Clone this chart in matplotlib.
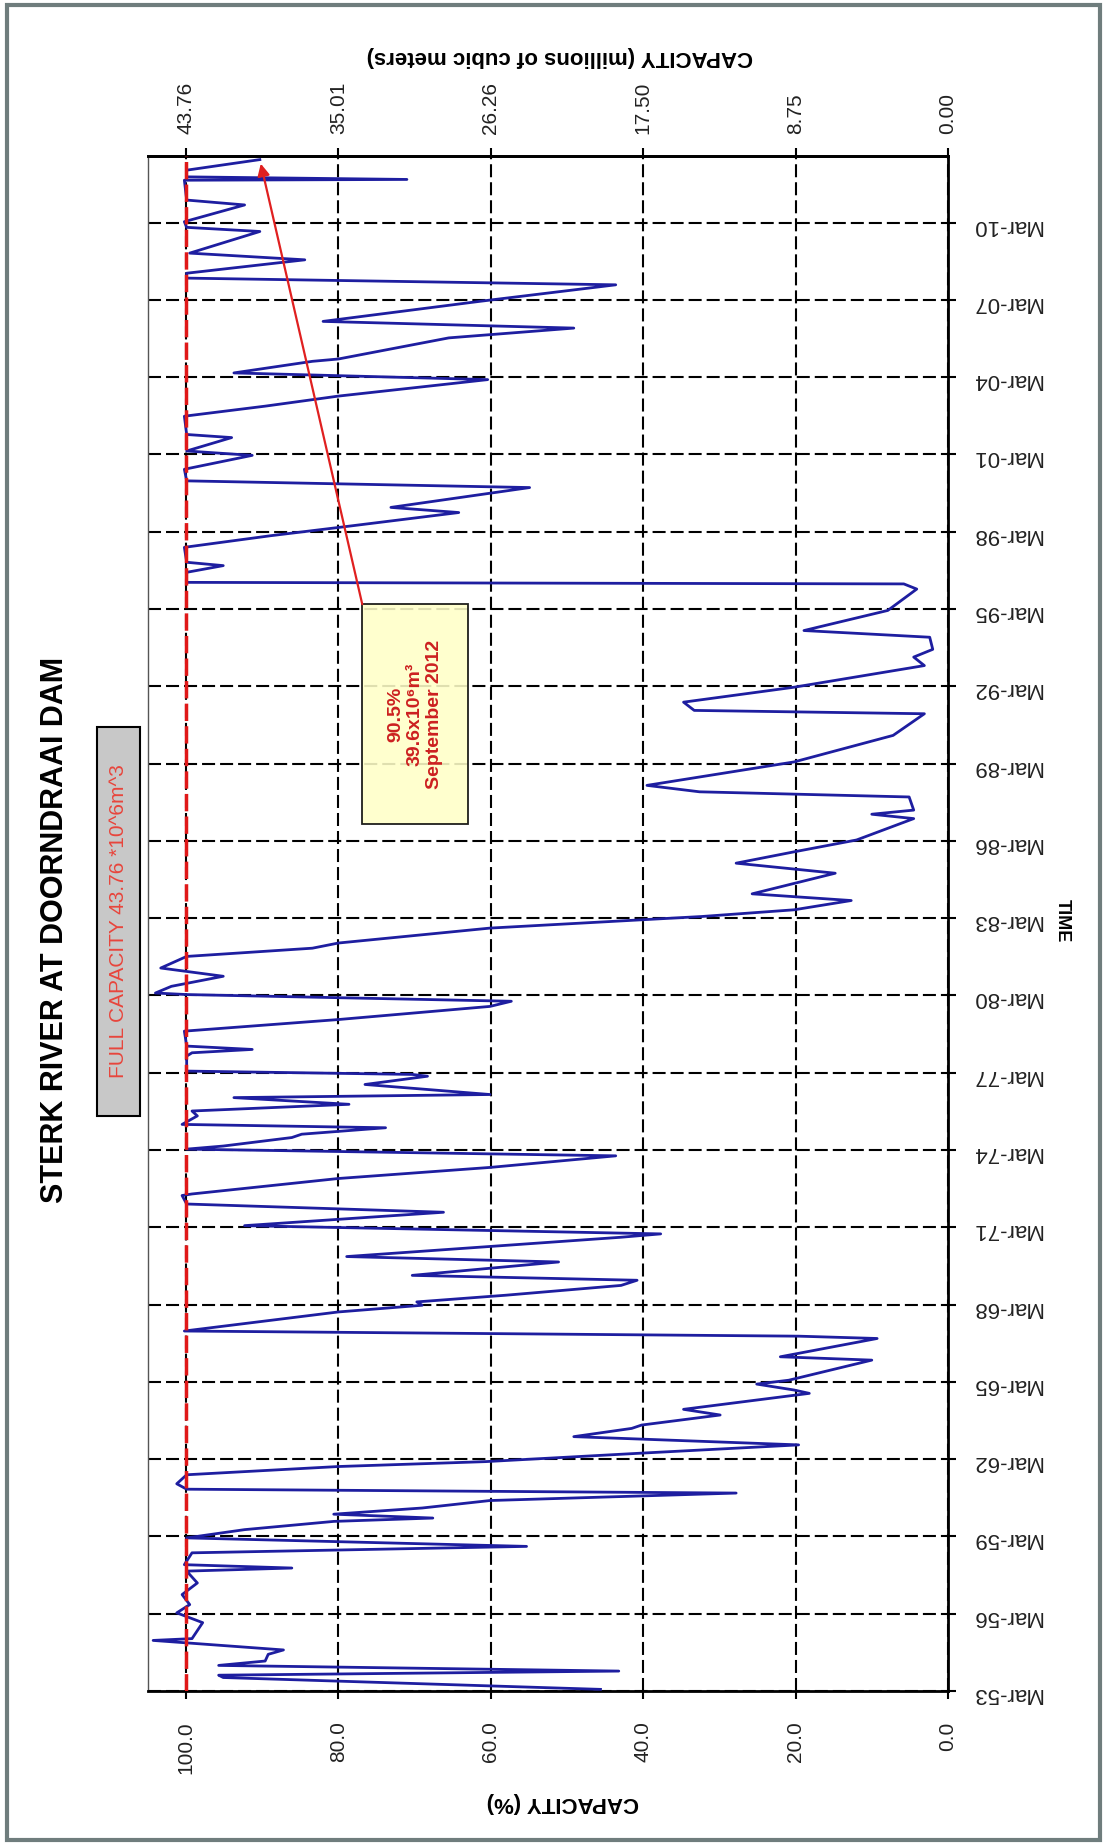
import matplotlib
matplotlib.use("Agg")
import matplotlib.pyplot as plt
from matplotlib.patches import Rectangle

plt.rcParams["font.family"] = ["Liberation Sans", "DejaVu Sans"]

# storage in % of full capacity (decimal year, %)
years = [
    1953.23, 1953.69, 1953.78, 1953.94, 1954.16, 1954.33, 1954.59, 1954.76,
    1955.13, 1955.20, 1955.82, 1956.20, 1956.52, 1956.91, 1957.36, 1957.82,
    1957.94, 1958.07, 1958.53, 1958.78, 1959.11, 1959.43, 1959.75, 1959.88,
    1960.03, 1960.27, 1960.56, 1960.85, 1961.00, 1961.21, 1961.56, 1961.88,
    1962.07, 1962.40, 1962.72, 1963.04, 1963.36, 1963.49, 1963.88, 1964.10,
    1964.72, 1964.85, 1965.08, 1965.23, 1966.01, 1966.14, 1966.85, 1966.94,
    1967.14, 1967.88, 1968.14, 1968.27, 1968.53, 1968.91, 1969.11, 1969.30,
    1969.82, 1970.03, 1970.78, 1970.91, 1971.23, 1971.75, 1972.07, 1972.40,
    1972.46, 1973.06, 1973.49, 1973.94, 1974.20, 1974.32, 1974.65, 1974.78,
    1975.03, 1975.16, 1975.49, 1975.68, 1975.94, 1976.20, 1976.32, 1976.71,
    1977.03, 1977.10, 1977.23, 1977.81, 1977.94, 1978.07, 1978.20, 1978.78,
    1979.23, 1979.74, 1979.94, 1980.20, 1980.26, 1980.52, 1980.91, 1981.23,
    1981.68, 1982.00, 1982.20, 1982.78, 1983.10, 1983.23, 1983.49, 1983.85,
    1984.11, 1984.91, 1985.30, 1985.74, 1986.20, 1987.03, 1987.20, 1987.36,
    1987.87, 1988.07, 1988.32, 1989.23, 1990.26, 1991.10, 1991.23, 1991.55,
    1992.13, 1992.97, 1993.30, 1993.60, 1994.07, 1994.33, 1995.11, 1995.94,
    1996.14, 1996.20, 1996.59, 1996.85, 1996.98, 1997.56, 1998.01, 1998.33,
    1998.91, 1999.11, 1999.88, 2000.14, 2000.59, 2001.13, 2001.30, 2001.82,
    2001.94, 2002.65, 2003.04, 2003.43, 2004.07, 2004.33, 2004.78, 2004.87,
    2005.69, 2006.07, 2006.33, 2007.11, 2007.75, 2008.01, 2008.20, 2008.72,
    2008.98, 2009.82, 2009.98, 2010.20, 2010.85, 2011.04, 2011.81, 2011.84,
    2011.94, 2012.20, 2012.61,
]
capacity = [
    45.6, 95.1, 95.7, 43.2, 95.7, 89.6, 89.2, 87.2,
    104.3, 99.2, 97.8, 101.2, 99.5, 100.5, 98.5, 99.9,
    86.1, 100.2, 99.2, 55.3, 99.9, 92.3, 80.6, 67.6,
    80.6, 69.0, 60.1, 27.8, 99.9, 101.2, 99.9, 80.0,
    60.7, 40.2, 19.6, 49.1, 41.5, 40.2, 29.9, 34.7,
    18.2, 20.2, 25.1, 20.9, 10.0, 22.0, 9.3, 19.6,
    100.2, 80.0, 69.0, 69.7, 58.0, 42.9, 40.8, 70.3,
    51.1, 78.9, 42.9, 37.7, 92.3, 66.2, 99.9, 100.5,
    99.2, 80.0, 60.1, 43.6, 99.9, 95.1, 86.1, 84.8,
    73.8, 100.5, 98.5, 99.2, 78.6, 93.7, 60.1, 76.5,
    68.3, 70.3, 99.9, 99.9, 99.2, 91.3, 99.9, 100.2,
    80.0, 60.1, 57.3, 99.9, 104.0, 101.9, 95.1, 103.3,
    99.9, 83.4, 80.0, 60.1, 40.2, 32.3, 20.2, 12.7,
    25.7, 14.8, 27.8, 20.2, 12.0, 4.5, 10.0, 4.5,
    5.1, 32.6, 39.5, 20.2, 7.2, 3.1, 33.3, 34.7,
    20.2, 3.1, 4.5, 2.0, 2.4, 18.9, 7.9, 4.1,
    5.8, 99.9, 99.9, 95.1, 99.9, 100.2, 88.9, 80.0,
    64.2, 73.1, 54.9, 99.9, 100.2, 91.3, 99.9, 94.0,
    99.9, 100.2, 89.6, 80.0, 60.4, 93.7, 83.4, 80.0,
    65.5, 49.1, 82.0, 61.4, 43.6, 99.9, 99.9, 84.4,
    99.5, 90.3, 99.9, 100.2, 92.3, 99.9, 100.2, 71.0,
    99.9, 99.9, 90.3,
]

pct_ticks = [100, 80, 60, 40, 20, 0]
pct_labels = ["100.0", "80.0", "60.0", "40.0", "20.0", "0.0"]
mcm_labels = ["43.76", "35.01", "26.26", "17.50", "8.75", "0.00"]
date_years = [1953 + 3 * k for k in range(20)]
date_labels = ["Mar-%02d" % (y % 100) for y in date_years]
full_capacity = 43.76

W, H = 1111, 1845
fig = plt.figure(figsize=(W / 100, H / 100), dpi=100)

# frame round the whole picture
fig.patches.append(Rectangle((7 / W, 5 / H), 1093 / W, 1835 / H, transform=fig.transFigure,
                             fill=False, ec="#6f7d7d", lw=3))

ax = fig.add_axes([147.8 / W, 1 - 1691 / H, 800.2 / W, 1535 / H])
t0 = date_years[0] + 2 / 12
ax.set_xlim(105, 0)
ax.set_ylim(t0, 2012.75)

grid_dash = (0, (6.25, 2.4))
for p in pct_ticks:
    ax.axvline(p, color="black", lw=1.5, linestyle=grid_dash, zorder=1)
for y in date_years:
    ax.axhline(y + 2 / 12, color="black", lw=1.5, linestyle=grid_dash, zorder=1)

ax.plot(capacity, years, color="#1e1ea0", lw=2, zorder=3)
ax.axvline(100, color="#e01818", lw=2.5, linestyle=(0, (5, 1.5)), zorder=4)

ax.set_xticks(pct_ticks)
ax.set_xticklabels(pct_labels, rotation=90)
ax.set_yticks([y + 2 / 12 for y in date_years])
ax.set_yticklabels(date_labels)
ax.yaxis.tick_right()
ax.tick_params(axis="x", direction="out", length=6, width=1.5, pad=16,
               labelsize=15, labelcolor="#222222")
ax.tick_params(axis="y", direction="out", length=6, width=1.5, pad=11,
               labelsize=16, labelcolor="#222222", labelrotation=180)
for s in ["top", "bottom", "right"]:
    ax.spines[s].set_linewidth(2)
ax.spines["left"].set_linewidth(1)
ax.spines["left"].set_color("#555555")

top = ax.secondary_xaxis("top", functions=(lambda p: p * full_capacity / 100,
                                           lambda m: m * 100 / full_capacity))
top.set_xticks([p * full_capacity / 100 for p in pct_ticks])
top.set_xticklabels(mcm_labels, rotation=90)
top.tick_params(direction="out", length=6, width=1.5, pad=10, labelsize=15,
                labelcolor="#222222")
top.spines["top"].set_linewidth(2)

# annotation of the latest level
ax.add_patch(Rectangle((0.268, 0.5645), 0.132, 0.1435, transform=ax.transAxes,
                       fc="#ffffc8", ec="black", lw=1.3, alpha=0.88, zorder=5))
ax.text(0.334, 0.636, "90.5%\n39.6x10⁶m³\nSeptember 2012", transform=ax.transAxes,
        rotation=90, ha="center", va="center", ma="center", color="#cc2020",
        fontsize=14, fontweight="bold", zorder=6)
ax.annotate("", xy=(capacity[-1], years[-1]), xycoords="data",
            xytext=(0.268, 0.708), textcoords="axes fraction",
            arrowprops=dict(arrowstyle="-|>", color="#e02020", lw=1.6,
                            mutation_scale=18, shrinkA=0, shrinkB=3),
            zorder=6)

# titles and axis labels
fig.text(55 / W, 1 - 930 / H, "STERK RIVER AT DOORNDRAAI DAM", rotation=90,
         ha="center", va="center", fontsize=22, fontweight="bold")
fig.patches.append(Rectangle((97 / W, 1 - 1116 / H), 43 / W, 389 / H,
                             transform=fig.transFigure, fc="#c8c8c8", ec="black", lw=1.5))
fig.text(119 / W, 1 - 921 / H, "FULL CAPACITY 43.76 *10^6m^3", rotation=90,
         ha="center", va="center", fontsize=15, color="#e8453c")
fig.text(563 / W, 1 - 1803 / H, "CAPACITY (%)", rotation=180,
         ha="center", va="center", fontsize=16, fontweight="bold")
fig.text(560 / W, 1 - 56 / H, "CAPACITY (millions of cubic meters)", rotation=180,
         ha="center", va="center", fontsize=16, fontweight="bold")
fig.text(1062 / W, 1 - 921 / H, "TIME", rotation=270,
         ha="center", va="center", fontsize=13, fontweight="bold")

fig.savefig("out.png", dpi=100, facecolor="white")
